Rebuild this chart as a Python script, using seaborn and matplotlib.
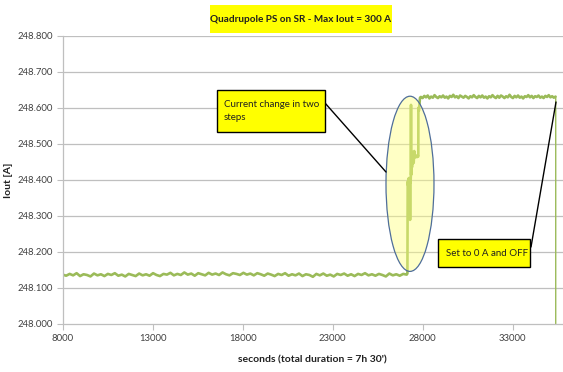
import numpy as np
import pandas as pd
import matplotlib
matplotlib.use("Agg")
import matplotlib.pyplot as plt
import seaborn as sns
from matplotlib.patches import Ellipse, Rectangle

# ---------------- data ----------------
baseline_start, baseline_end = 8000, 27111
baseline_vals = [
    248.137, 248.134, 248.139, 248.135, 248.141, 248.133, 248.138, 248.136, 248.132, 248.140,
    248.135, 248.138, 248.133, 248.139, 248.136, 248.141, 248.134, 248.137, 248.132, 248.139,
    248.136, 248.133, 248.140, 248.135, 248.138, 248.134, 248.141, 248.136, 248.133, 248.139,
    248.137, 248.142, 248.135, 248.139, 248.136, 248.143, 248.137, 248.140, 248.134, 248.141,
    248.138, 248.135, 248.142, 248.137, 248.140, 248.136, 248.143, 248.138, 248.135, 248.141,
    248.139, 248.136, 248.142, 248.137, 248.140, 248.135, 248.141, 248.138, 248.134, 248.140,
    248.137, 248.133, 248.139, 248.136, 248.141, 248.134, 248.138, 248.135, 248.140, 248.133,
    248.138, 248.136, 248.131, 248.139, 248.135, 248.140, 248.134, 248.137, 248.132, 248.139,
    248.136, 248.140, 248.134, 248.138, 248.133, 248.139, 248.136, 248.141, 248.135, 248.138,
    248.134, 248.139, 248.136, 248.132, 248.140, 248.135, 248.138, 248.134, 248.139, 248.137,
]

transient_t = [27150, 27167, 27185, 27200, 27215, 27230, 27245, 27260, 27275, 27290,
               27300, 27310, 27325, 27340, 27350, 27360, 27375, 27390, 27405, 27420,
               27440, 27470, 27500, 27530, 27535, 27570, 27620, 27680, 27730, 27756,
               27760, 27790, 27820, 27850]
transient_v = [248.140, 248.395, 248.385, 248.402, 248.388, 248.405, 248.392, 248.400, 248.386, 248.405,
               248.289, 248.400, 248.392, 248.410, 248.608, 248.414, 248.440, 248.478, 248.435, 248.472,
               248.445, 248.452, 248.447, 248.480, 248.466, 248.462, 248.468, 248.463, 248.467, 248.465,
               248.600, 248.592, 248.612, 248.628]

upper_start, upper_end = 27900, 35380
upper_vals = [
    248.630, 248.627, 248.633, 248.629, 248.634, 248.626, 248.631, 248.628, 248.635, 248.630,
    248.627, 248.632, 248.629, 248.634, 248.628, 248.631, 248.626, 248.633, 248.630, 248.636,
    248.629, 248.632, 248.627, 248.634, 248.631, 248.628, 248.633, 248.630, 248.626, 248.632,
    248.629, 248.635, 248.630, 248.627, 248.633, 248.629, 248.634, 248.628, 248.631, 248.626,
    248.632, 248.629, 248.635, 248.630, 248.627, 248.633, 248.628, 248.634, 248.631, 248.627,
    248.632, 248.629, 248.636, 248.630, 248.627, 248.633, 248.629, 248.634, 248.628, 248.631,
    248.626, 248.632, 248.630, 248.635, 248.629, 248.633, 248.627, 248.632, 248.630, 248.634,
    248.628, 248.631, 248.627, 248.633, 248.630, 248.635, 248.629, 248.632, 248.628, 248.631,
]

off_t = [35390, 35392]
off_v = [248.630, 0.0]

x_ticks = [8000, 13000, 18000, 23000, 28000, 33000]
y_ticks = [248.0, 248.1, 248.2, 248.3, 248.4, 248.5, 248.6, 248.7, 248.8]

title = "Quadrupole PS on SR - Max Iout = 300 A"
xlabel = "seconds (total duration = 7h 30')"
ylabel = "Iout [A]"
note1 = "Current change in two\nsteps"
note2 = "Set to 0 A and OFF"

# ---------------- build table ----------------
t_on = np.concatenate([
    np.linspace(baseline_start, baseline_end, len(baseline_vals)),
    transient_t,
    np.linspace(upper_start, upper_end, len(upper_vals)),
])
v_on = np.concatenate([baseline_vals, transient_v, upper_vals])
df_on = pd.DataFrame({"t": t_on, "v": v_on})
df_off = pd.DataFrame({"t": [upper_end] + off_t, "v": [upper_vals[-1]] + off_v})

# ---------------- plot ----------------
sns.set_theme(style="white")
plt.rcParams["font.family"] = ["Lato", "DejaVu Sans"]

W, H = 563, 372
fig = plt.figure(figsize=(W / 100, H / 100), dpi=100)
ax = fig.add_axes([62.7 / W, 1 - 324 / H, 1 - 62.7 / W, (324 - 35.7) / H])

grid_c = "#BFBFBF"
for yv in y_ticks[1:]:
    ax.axhline(yv, color=grid_c, lw=0.9, zorder=0)

sns.lineplot(data=df_on, x="t", y="v", ax=ax, sort=False, estimator=None,
             color="#9BBB59", lw=1.9, zorder=2)
sns.lineplot(data=df_off, x="t", y="v", ax=ax, sort=False, estimator=None,
             color="#9BBB59", lw=1.0, zorder=2)

ax.set_xlim(8000, 8000 + (W - 62.7) / 0.018)
ax.set_ylim(248.0, 248.8)
ax.set_xticks(x_ticks)
ax.set_xticklabels([str(x) for x in x_ticks])
ax.set_yticks(y_ticks)
ax.set_yticklabels([f"{y:.3f}" for y in y_ticks])
ax.tick_params(axis="both", which="both", labelsize=6.8, colors="#404040",
               length=4, width=0.8, direction="out", color=grid_c, pad=3)
ax.tick_params(axis="y", left=True)
ax.tick_params(axis="x", bottom=True)
for s in ["top", "right"]:
    ax.spines[s].set_visible(False)
for s in ["left", "bottom"]:
    ax.spines[s].set_color(grid_c)
    ax.spines[s].set_linewidth(0.9)

ax.set_xlabel(xlabel, fontsize=7.5, fontweight="bold", color="#202020", labelpad=9)
ax.set_ylabel(ylabel, fontsize=7.5, fontweight="bold", color="#202020")
ax.yaxis.set_label_coords((13 - 62.7) / (W - 62.7), 0.5)

# ellipse highlight
ell = Ellipse((27294, 248.389), width=48 / 0.018, height=175 / 360,
              facecolor="#FFFF80", alpha=0.45, edgecolor="none", zorder=3)
ax.add_patch(ell)
ell2 = Ellipse((27294, 248.389), width=48 / 0.018, height=175 / 360,
               facecolor="none", edgecolor="#4F6E9A", lw=0.9, zorder=4)
ax.add_patch(ell2)

def px(x, y):
    return (x / W, 1 - y / H)

# title box
fig.add_artist(Rectangle(px(210, 33), 182 / W, 28 / H, transform=fig.transFigure,
                         facecolor="#FFFF00", edgecolor="none", zorder=1))
fig.text(*px(301, 19), title, ha="center", va="center", fontsize=7.2, fontweight="bold",
         color="#202020", zorder=2)

# connector lines
fig.add_artist(plt.Line2D([325 / W, 386 / W], [1 - 103 / H, 1 - 172 / H], color="black", lw=1.0,
                          transform=fig.transFigure, zorder=5))
fig.add_artist(plt.Line2D([531 / W, 556 / W], [1 - 247 / H, 1 - 102 / H], color="black", lw=1.0,
                          transform=fig.transFigure, zorder=5))

# note boxes
fig.add_artist(Rectangle(px(217, 132), 108 / W, 42 / H, transform=fig.transFigure,
                         facecolor="#FFFF00", edgecolor="black", lw=1.0, zorder=6))
fig.text(*px(224, 111), note1, ha="left", va="center", fontsize=7, color="#202020",
         linespacing=1.7, zorder=7)
fig.add_artist(Rectangle(px(438, 267), 92 / W, 28 / H, transform=fig.transFigure,
                         facecolor="#FFFF00", edgecolor="black", lw=1.0, zorder=6))
fig.text(*px(446, 253), note2, ha="left", va="center", fontsize=7, color="#202020", zorder=7)

fig.savefig("out.png", dpi=100)
